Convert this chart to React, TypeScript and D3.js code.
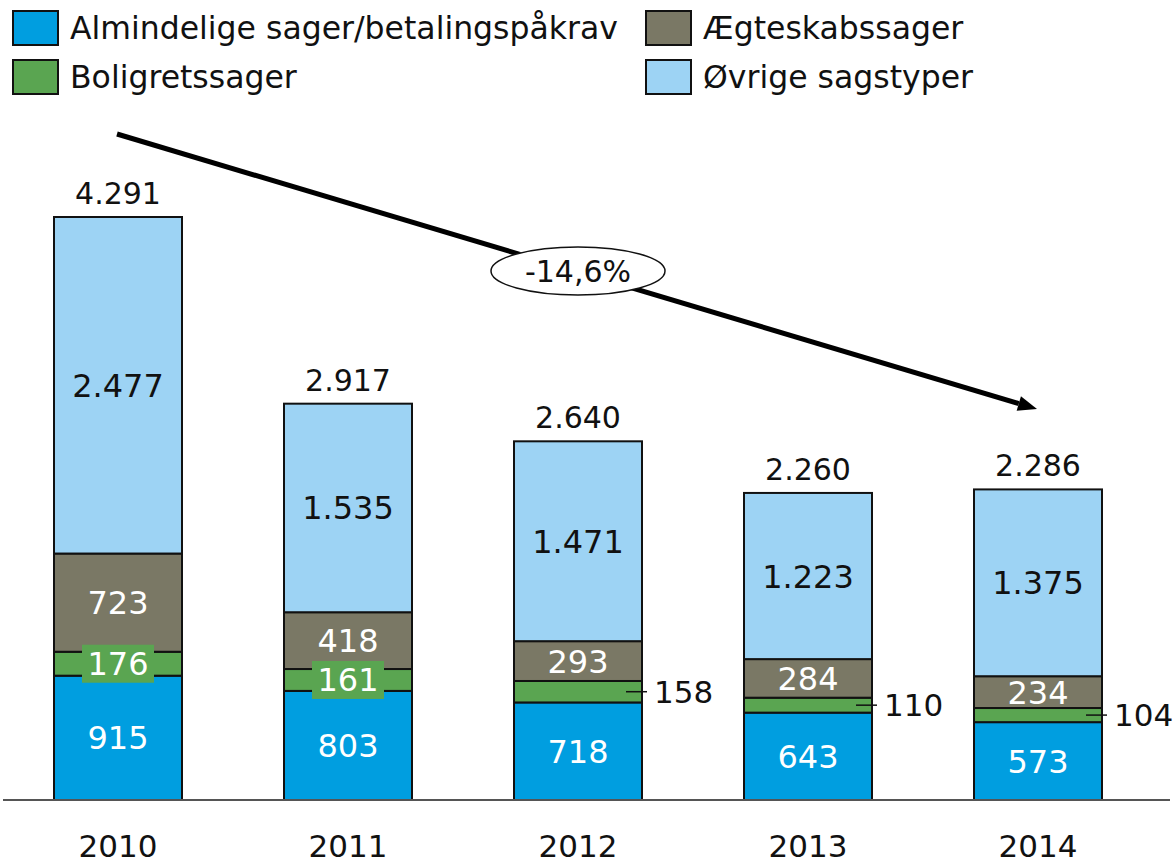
import React from 'react';
import * as d3 from 'd3';

const years = ['2010', '2011', '2012', '2013', '2014'];
const almindelige = [915, 803, 718, 643, 573];
const bolig = [176, 161, 158, 110, 104];
const aegteskab = [723, 418, 293, 284, 234];
const ovrige = [2477, 1535, 1471, 1223, 1375];
const totals = [4291, 2917, 2640, 2260, 2286];
// where the small Boligretssager value is written: in the bar or beside it
const boligLabelOutside = [false, false, true, true, true];

const seriesKeys = ['almindelige', 'bolig', 'aegteskab', 'ovrige'];
const seriesNames = ['Almindelige sager/betalingspåkrav', 'Boligretssager', 'Ægteskabssager', 'Øvrige sagstyper'];
const seriesColors = ['#009ee0', '#5aa551', '#7a7865', '#9dd3f4'];

const trendLabel = '-14,6%';

const W = 1176;
const H = 866;
const FONT = '"DejaVu Sans", Verdana, sans-serif';

const da = d3.formatLocale({ decimal: ',', thousands: '.', grouping: [3], currency: ['', ' kr'] });
const fmt = da.format(',d');

export default function App() {
  const rows = years.map((year, i) => ({
    year,
    almindelige: almindelige[i],
    bolig: bolig[i],
    aegteskab: aegteskab[i],
    ovrige: ovrige[i],
  }));

  const stacked = d3.stack<any>().keys(seriesKeys)(rows);

  const x = d3.scaleBand<string>()
    .domain(years)
    .range([3, 1153])
    .paddingInner(0.4435)
    .paddingOuter(0.22175);

  const y = d3.scaleLinear().domain([0, d3.max(totals) as number]).range([800, 217]);

  const bw = x.bandwidth();

  // legend layout (two columns, two rows)
  const legendPos = [
    { x: 13, y: 11 },
    { x: 13, y: 60 },
    { x: 646, y: 11 },
    { x: 646, y: 60 },
  ];

  // trend arrow from first bar to last
  const a0 = { x: 117, y: 134 };
  const a1 = { x: 1037, y: 409 };
  const ang = Math.atan2(a1.y - a0.y, a1.x - a0.x);
  const head = 19;
  const hw = 7.5;
  const bx = a1.x - head * Math.cos(ang);
  const by = a1.y - head * Math.sin(ang);
  const arrowHead = [
    [a1.x, a1.y],
    [bx + hw * Math.sin(ang), by - hw * Math.cos(ang)],
    [bx - hw * Math.sin(ang), by + hw * Math.cos(ang)],
  ];
  const mid = { x: 578, y: 271 };

  return (
    <svg width={W} height={H} style={{ position: 'absolute', left: 0, top: 0, display: 'block' }}
      fontFamily={FONT}>
      <rect width={W} height={H} fill="#fff" />

      {/* legend */}
      {seriesNames.map((name, i) => (
        <g key={name} transform={`translate(${legendPos[i].x},${legendPos[i].y})`}>
          <rect x={0} y={0} width={45} height={34} fill={seriesColors[i]} stroke="#111" strokeWidth={2} />
          <text x={57} y={28} fontSize={31.5} fill="#111">{name}</text>
        </g>
      ))}

      {/* bars */}
      {stacked.map((s, si) => (
        <g key={s.key}>
          {s.map((d, i) => (
            <rect key={years[i]} x={x(years[i])} y={y(d[1])} width={bw} height={y(d[0]) - y(d[1])}
              fill={seriesColors[si]} stroke="#111" strokeWidth={2} />
          ))}
        </g>
      ))}

      {/* segment labels */}
      {stacked.map((s, si) => s.map((d, i) => {
        const cx = (x(years[i]) as number) + bw / 2;
        const cy = (y(d[0]) + y(d[1])) / 2;
        const v = d[1] - d[0];
        if (s.key === 'bolig' && boligLabelOutside[i]) {
          const right = (x(years[i]) as number) + bw;
          return (
            <g key={s.key + i}>
              <line x1={right - 16} x2={right + 5} y1={cy} y2={cy} stroke="#111" strokeWidth={1.5} />
              <text x={right + 12} y={cy} dy="0.36em" fontSize={31} fill="#111">{fmt(v)}</text>
            </g>
          );
        }
        const white = s.key !== 'ovrige';
        return (
          <g key={s.key + i}>
            {s.key === 'bolig' && (
              <rect x={cx - 36} y={cy - 19} width={72} height={38} fill={seriesColors[si]} />
            )}
            <text x={cx} y={cy} dy="0.36em" textAnchor="middle" fontSize={32}
              fill={white ? '#fff' : '#111'}>{fmt(v)}</text>
          </g>
        );
      }))}

      {/* totals */}
      {totals.map((t, i) => (
        <text key={'t' + i} x={(x(years[i]) as number) + bw / 2} y={y(t) - 13} textAnchor="middle"
          fontSize={30} fill="#111">{fmt(t)}</text>
      ))}

      {/* axis */}
      <line x1={3} x2={1170} y1={y(0)} y2={y(0)} stroke="#555" strokeWidth={2} />
      {years.map((yr) => (
        <text key={yr} x={(x(yr) as number) + bw / 2} y={857} textAnchor="middle" fontSize={31} fill="#111">{yr}</text>
      ))}

      {/* trend arrow */}
      <line x1={a0.x} y1={a0.y} x2={bx} y2={by} stroke="#000" strokeWidth={5} />
      <polygon points={arrowHead.map((p) => p.join(',')).join(' ')} fill="#000" />
      <ellipse cx={mid.x} cy={mid.y} rx={87} ry={24} fill="#fff" stroke="#111" strokeWidth={1.5} />
      <text x={mid.x} y={mid.y} dy="0.36em" textAnchor="middle" fontSize={30} fill="#111">{trendLabel}</text>
    </svg>
  );
}
